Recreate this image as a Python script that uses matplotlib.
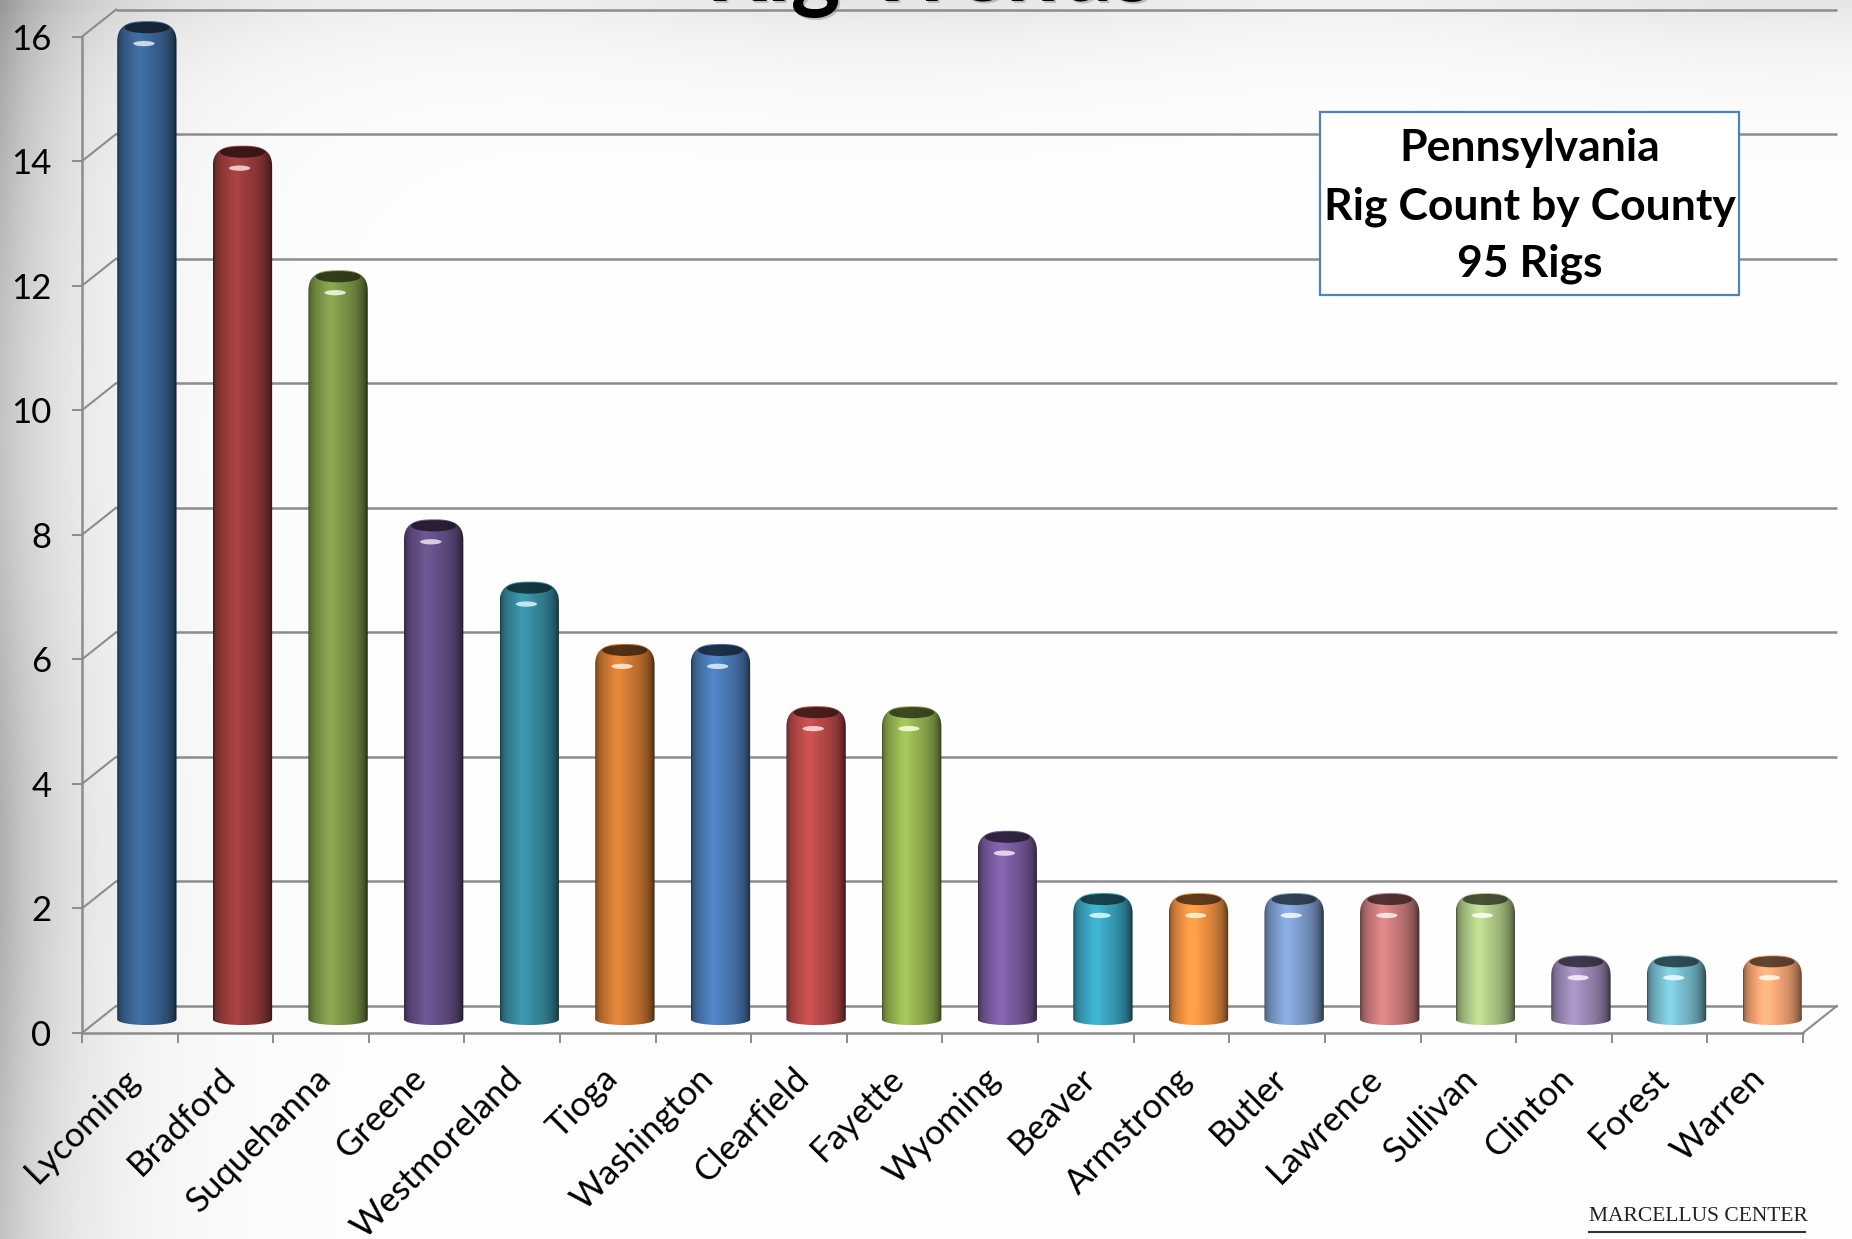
import numpy as np
import matplotlib
matplotlib.use("Agg")
import matplotlib.pyplot as plt
from matplotlib.path import Path
from matplotlib.patches import PathPatch, Ellipse, Rectangle
from matplotlib.lines import Line2D
from matplotlib.colors import to_rgb

plt.rcParams["font.family"] = ["Lato", "DejaVu Sans"]

# ---------- data ----------
counties = ["Lycoming", "Bradford", "Suquehanna", "Greene", "Westmoreland", "Tioga",
            "Washington", "Clearfield", "Fayette", "Wyoming", "Beaver", "Armstrong",
            "Butler", "Lawrence", "Sullivan", "Clinton", "Forest", "Warren"]
rigs = [16, 14, 12, 8, 7, 6, 6, 5, 5, 3, 2, 2, 2, 2, 2, 1, 1, 1]
bar_colors = ["#3b6595", "#993c3c", "#7e9848", "#654f86", "#378a9e", "#d17a34",
              "#4a7ab6", "#bb4a4a", "#96b552", "#7a5c9f", "#3aa4bf", "#f29343",
              "#7e9fcf", "#cd7c7c", "#b0cc89", "#9d8ab8", "#7ac0d2", "#f8a977"]
y_ticks = [0, 2, 4, 6, 8, 10, 12, 14, 16]
box_lines = ["Pennsylvania", "Rig Count by County", "95 Rigs"]
title = "Rig Trends"
footer = "MARCELLUS CENTER"

# ---------- 3D look parameters (in data units) ----------
DX, DY = 0.356, 0.434      # depth offset of the back wall
BAR_W = 0.62
CAP_B = 0.09               # half height of the cylinder ellipses
SHOULDER = 0.36
GRID = "#8c8c8c"
YTOP = 16.8                # axes headroom so the caps are not clipped

fig = plt.figure(figsize=(18.52, 12.39), dpi=100)

# ---------- background: grey haze on the left and along the top ----------
bg = fig.add_axes([0, 0, 1, 1], zorder=0)
bg.axis("off")
v, u = np.mgrid[0:1:300j, 0:1:450j]
shade = 1.0 - 0.26 * np.exp(-u / 0.035) * (0.85 + 0.15 * np.cos(v * 9))
shade -= 0.10 * np.exp(-v / 0.05) * (0.8 + 0.2 * np.cos(u * 13))
shade -= 0.05 * np.exp(-u / 0.09)
bg.imshow(np.dstack([shade] * 3).clip(0, 1), extent=[0, 1, 0, 1], aspect="auto",
          interpolation="bicubic")
bg.set_xlim(0, 1)
bg.set_ylim(0, 1)

# ---------- main axes = front plane ----------
unit_h = 0.8042 / 16
ax = fig.add_axes([0.0443, 0.1663, 0.9292, unit_h * YTOP], zorder=1)
ax.patch.set_alpha(0)

n = len(counties)
left, right = -0.5, n - 0.5

# back wall gridlines + side wall diagonals
for t in y_ticks:
    ax.plot([left + DX, right + DX], [t + DY, t + DY], color=GRID, lw=1.8,
            clip_on=False, zorder=1, solid_capstyle="butt")
    ax.plot([left, left + DX], [t, t + DY], color=GRID, lw=1.5, clip_on=False, zorder=1)
# floor right edge
ax.plot([right, right + DX], [0, DY], color=GRID, lw=1.5, clip_on=False, zorder=1)

for s in ["top", "right"]:
    ax.spines[s].set_visible(False)
for s in ["left", "bottom"]:
    ax.spines[s].set_color(GRID)
    ax.spines[s].set_linewidth(1.8)
ax.spines["left"].set_bounds(0, 16)

ax.set_yticks(y_ticks)
ax.set_yticklabels([str(t) for t in y_ticks])
ax.set_xticks(np.arange(left, right + 0.01, 1))
ax.tick_params(axis="y", length=7, width=1.4, color=GRID, labelsize=25, pad=15)
ax.tick_params(axis="x", length=7, width=1.4, color=GRID, labelbottom=False)


def cylinder_path(xc, a, yb, yt):
    pts = []
    th = np.linspace(np.pi, 2 * np.pi, 40)
    pts += list(zip(xc + a * np.cos(th), yb + CAP_B * np.sin(th)))
    ys = yt - SHOULDER
    th = np.linspace(0, np.pi, 80)
    c, s = np.cos(th), np.sin(th)
    ex = 2 / 2.8
    pts += list(zip(xc + a * np.sign(c) * np.abs(c) ** ex, ys + SHOULDER * np.abs(s) ** ex))
    pts.append(pts[0])
    return Path(pts, closed=True)


tt = np.linspace(0, 1, 240)
bright = 0.22 + 0.90 * np.sin(np.pi * tt) ** 0.3 - 0.24 * tt
bright += 0.10 * np.exp(-((tt - 0.38) / 0.12) ** 2)

for i, (val, col) in enumerate(zip(rigs, bar_colors)):
    base = np.array(to_rgb(col))
    xc = i + DX / 2
    a = BAR_W / 2
    yb = DY / 2
    yt = val + DY / 2 + 0.03
    clip = PathPatch(cylinder_path(xc, a, yb, yt), facecolor="none", edgecolor="none")
    ax.add_patch(clip)
    grad = np.clip(base[None, None, :] * bright[None, :, None], 0, 1)
    im = ax.imshow(grad, extent=[xc - a, xc + a, yb - CAP_B, yt], aspect="auto",
                   interpolation="bilinear", zorder=3)
    im.set_clip_path(clip)
    # darker top face
    ax.add_patch(Ellipse((xc, yt - CAP_B * 1.15), BAR_W * 0.76, CAP_B * 2.0,
                         facecolor=base * 0.28, edgecolor="none", alpha=0.85, zorder=4))
    # specular highlight
    ax.add_patch(Ellipse((xc - 0.03, yt - 0.36), BAR_W * 0.36, 0.085,
                         facecolor=np.clip(base * 0.3 + 0.8, 0, 1), edgecolor="none",
                         alpha=0.85, zorder=4))

for i, name in enumerate(counties):
    ax.text(i - 0.07, -0.47, name, rotation=45, rotation_mode="anchor",
            ha="right", va="top", fontsize=25, clip_on=False)

ax.set_xlim(left, right)
ax.set_ylim(0, YTOP)

# ---------- title (cut off at the top) ----------
fig.text(0.5035, 0.9975, title, fontsize=68, weight="bold", ha="center",
         va="baseline", color="#909090", alpha=0.5, zorder=2)
fig.text(0.502, 0.999, title, fontsize=68, weight="bold", ha="center",
         va="baseline", color="black", zorder=2)

# ---------- text box ----------
fig.add_artist(Rectangle((0.7130, 0.7617), 0.2258, 0.1477, transform=fig.transFigure,
                         facecolor="white", edgecolor="#4f81bd", lw=1.6, zorder=5))
for txt, yf in zip(box_lines, [0.8808, 0.8332, 0.7874]):
    fig.text(0.8259, yf, txt, fontsize=32, weight="bold", ha="center", va="center",
             zorder=6)

# ---------- footer logo ----------
fig.text(0.8578, 0.0182, footer, fontsize=15.5, ha="left", va="center",
         family=["Liberation Serif", "DejaVu Serif"], color="#222222")
fig.add_artist(Line2D([0.8578, 0.9745], [0.0057, 0.0057], transform=fig.transFigure,
                      color="#333333", lw=1.5))

plt.savefig("out.png", dpi=100)
